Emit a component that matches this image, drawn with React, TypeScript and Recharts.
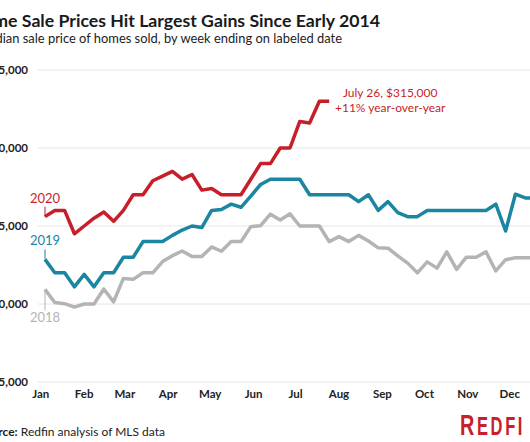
import React from "react";
import { LineChart, Line, XAxis, YAxis, CartesianGrid } from "recharts";

const weekDays = [3, 10, 17, 24, 31, 38, 45, 52, 59, 66, 73, 80, 87, 94, 101, 108, 115, 122, 129, 136, 143, 150, 157, 164, 171, 178, 185, 192, 199, 206, 213, 220, 227, 234, 241, 248, 255, 262, 269, 276, 283, 290, 297, 304, 311, 318, 325, 332, 339, 346, 353, 360];

const price2020 = [278000, 280000, 280000, 272500, 275000, 277500, 279500, 276500, 280000, 285000, 285000, 289500, 291000, 292500, 290000, 291500, 286500, 287000, 285000, 285000, 285000, 290000, 295000, 295000, 300000, 300000, 308500, 308000, 315000, 315000];

const price2019 = [264300, 260000, 260000, 255500, 259500, 255500, 260000, 260000, 265000, 265000, 270000, 270000, 270000, 272000, 273700, 275000, 274500, 280000, 280300, 282000, 281000, 284600, 288300, 290000, 290000, 290000, 290000, 285000, 285000, 285000, 285000, 285000, 282800, 285000, 280000, 282800, 279300, 278000, 278000, 280000, 280000, 280000, 280000, 280000, 280000, 280000, 282000, 273400, 285200, 284000, 284000, 284000];

const price2018 = [254700, 250500, 250100, 249000, 250000, 250000, 254800, 250700, 258200, 257900, 260000, 260000, 263600, 265500, 267000, 265200, 265200, 268300, 266900, 270000, 270000, 274800, 275100, 278800, 276900, 278900, 275000, 275000, 275000, 270000, 271600, 270000, 272000, 270200, 268000, 267900, 265400, 263100, 260000, 263500, 261500, 266700, 261100, 265000, 265000, 266700, 260600, 264200, 264800, 264800, 264800, 264500];

const monthStarts = [0, 31, 60, 91, 121, 152, 182, 213, 244, 274, 305, 335];
const monthLabels = ["Jan", "Feb", "Mar", "Apr", "May", "Jun", "Jul", "Aug", "Sep", "Oct", "Nov", "Dec"];
const yTicks = [225000, 250000, 275000, 300000, 325000];

const RED = "#c61f2a";
const TEAL = "#1a86a1";
const GREY = "#b4b4b4";

const data = weekDays.map((d, i) => ({
  day: d,
  y2020: i < price2020.length ? price2020[i] : null,
  y2019: price2019[i],
  y2018: price2018[i],
}));

const fmtMoney = (v: number) => "$" + v.toLocaleString("en-US");

const makeYearLabel = (year: string, color: string, below: boolean, annotate: boolean) => (props: any) => {
  const { x, y, index } = props;
  if (x == null || y == null) return null;
  if (index === 0) {
    if (below) {
      return (
        <g>
          <line x1={x} y1={y} x2={x} y2={y + 21} stroke={color} strokeWidth={1} />
          <text x={x} y={y + 33} textAnchor="middle" fill={color} fontFamily="Lato" fontSize={13}>{year}</text>
        </g>
      );
    }
    return (
      <g>
        <line x1={x} y1={y - 10} x2={x} y2={y} stroke={color} strokeWidth={1} />
        <text x={x} y={y - 14} textAnchor="middle" fill={color} fontFamily="Lato" fontSize={13}>{year}</text>
      </g>
    );
  }
  if (annotate && index === price2020.length - 1) {
    return (
      <g>
        <text x={x + 61} y={y - 4} textAnchor="middle" fill={color} fontFamily="Lato" fontSize={12}>July 26, $315,000</text>
        <text x={x + 61} y={y + 11} textAnchor="middle" fill={color} fontFamily="Lato" fontSize={12}>+11% year-over-year</text>
      </g>
    );
  }
  return null;
};

const tickStyle = { fontFamily: "Lato", fontWeight: 700, fontSize: 11.5, fill: "#222" };

export default function App() {
  return (
    <div style={{ position: "absolute", left: 0, top: 0, width: 530, height: 442, overflow: "hidden", background: "#fff" }}>
      <div style={{ position: "absolute", left: -22, top: 0, width: 620, height: 442 }}>
        <LineChart width={620} height={442} data={data} margin={{ top: 70, right: 28, bottom: 30, left: 0 }}>
          <CartesianGrid vertical={false} stroke="#e6e6e6" strokeWidth={1} />
          <XAxis
            dataKey="day"
            type="number"
            domain={[-2, 378]}
            ticks={monthStarts}
            tickFormatter={(v: number) => monthLabels[monthStarts.indexOf(v)]}
            axisLine={false}
            tickLine={false}
            tickSize={0}
            tickMargin={8}
            height={30}
            tick={tickStyle}
            interval={0}
          />
          <YAxis
            type="number"
            domain={[225000, 325000]}
            ticks={yTicks}
            tickFormatter={fmtMoney}
            axisLine={false}
            tickLine={false}
            tickSize={0}
            tickMargin={10}
            width={60}
            tick={tickStyle}
            interval={0}
          />
          <Line type="linear" dataKey="y2018" stroke={GREY} strokeWidth={3.5} dot={false} isAnimationActive={false} strokeLinejoin="round" label={makeYearLabel("2018", GREY, true, false)} />
          <Line type="linear" dataKey="y2019" stroke={TEAL} strokeWidth={3.5} dot={false} isAnimationActive={false} strokeLinejoin="round" label={makeYearLabel("2019", TEAL, false, false)} />
          <Line type="linear" dataKey="y2020" stroke={RED} strokeWidth={3.5} dot={false} isAnimationActive={false} strokeLinejoin="round" connectNulls={false} label={makeYearLabel("2020", RED, false, true)} />
        </LineChart>
        <svg width={620} height={442} style={{ position: "absolute", left: 0, top: 0, pointerEvents: "none" }}>
          <text x={402} y={27} textAnchor="end" fontFamily="Lato" fontWeight={700} fontSize={17.7} fill="#1a1a1a">Home Sale Prices Hit Largest Gains Since Early 2014</text>
          <text x={364} y={43} textAnchor="end" fontFamily="Lato" fontSize={12.9} fill="#222">Median sale price of homes sold, by week ending on labeled date</text>
          <text x={0} y={435.5} fontFamily="Lato" fontSize={12} fill="#222">
            <tspan fontWeight={700}>Source:</tspan>
            <tspan> Redfin analysis of MLS data</tspan>
          </text>
          <g transform="translate(482,434.5) scale(0.66,1)">
            <text x={0} y={0} fill="#c8202a" fontFamily="Liberation Sans" fontWeight={700} letterSpacing={4}>
              <tspan fontSize={30}>R</tspan>
              <tspan fontSize={25}>EDFI</tspan>
              <tspan fontSize={25} dx={12}>N</tspan>
            </text>
          </g>
        </svg>
      </div>
    </div>
  );
}
